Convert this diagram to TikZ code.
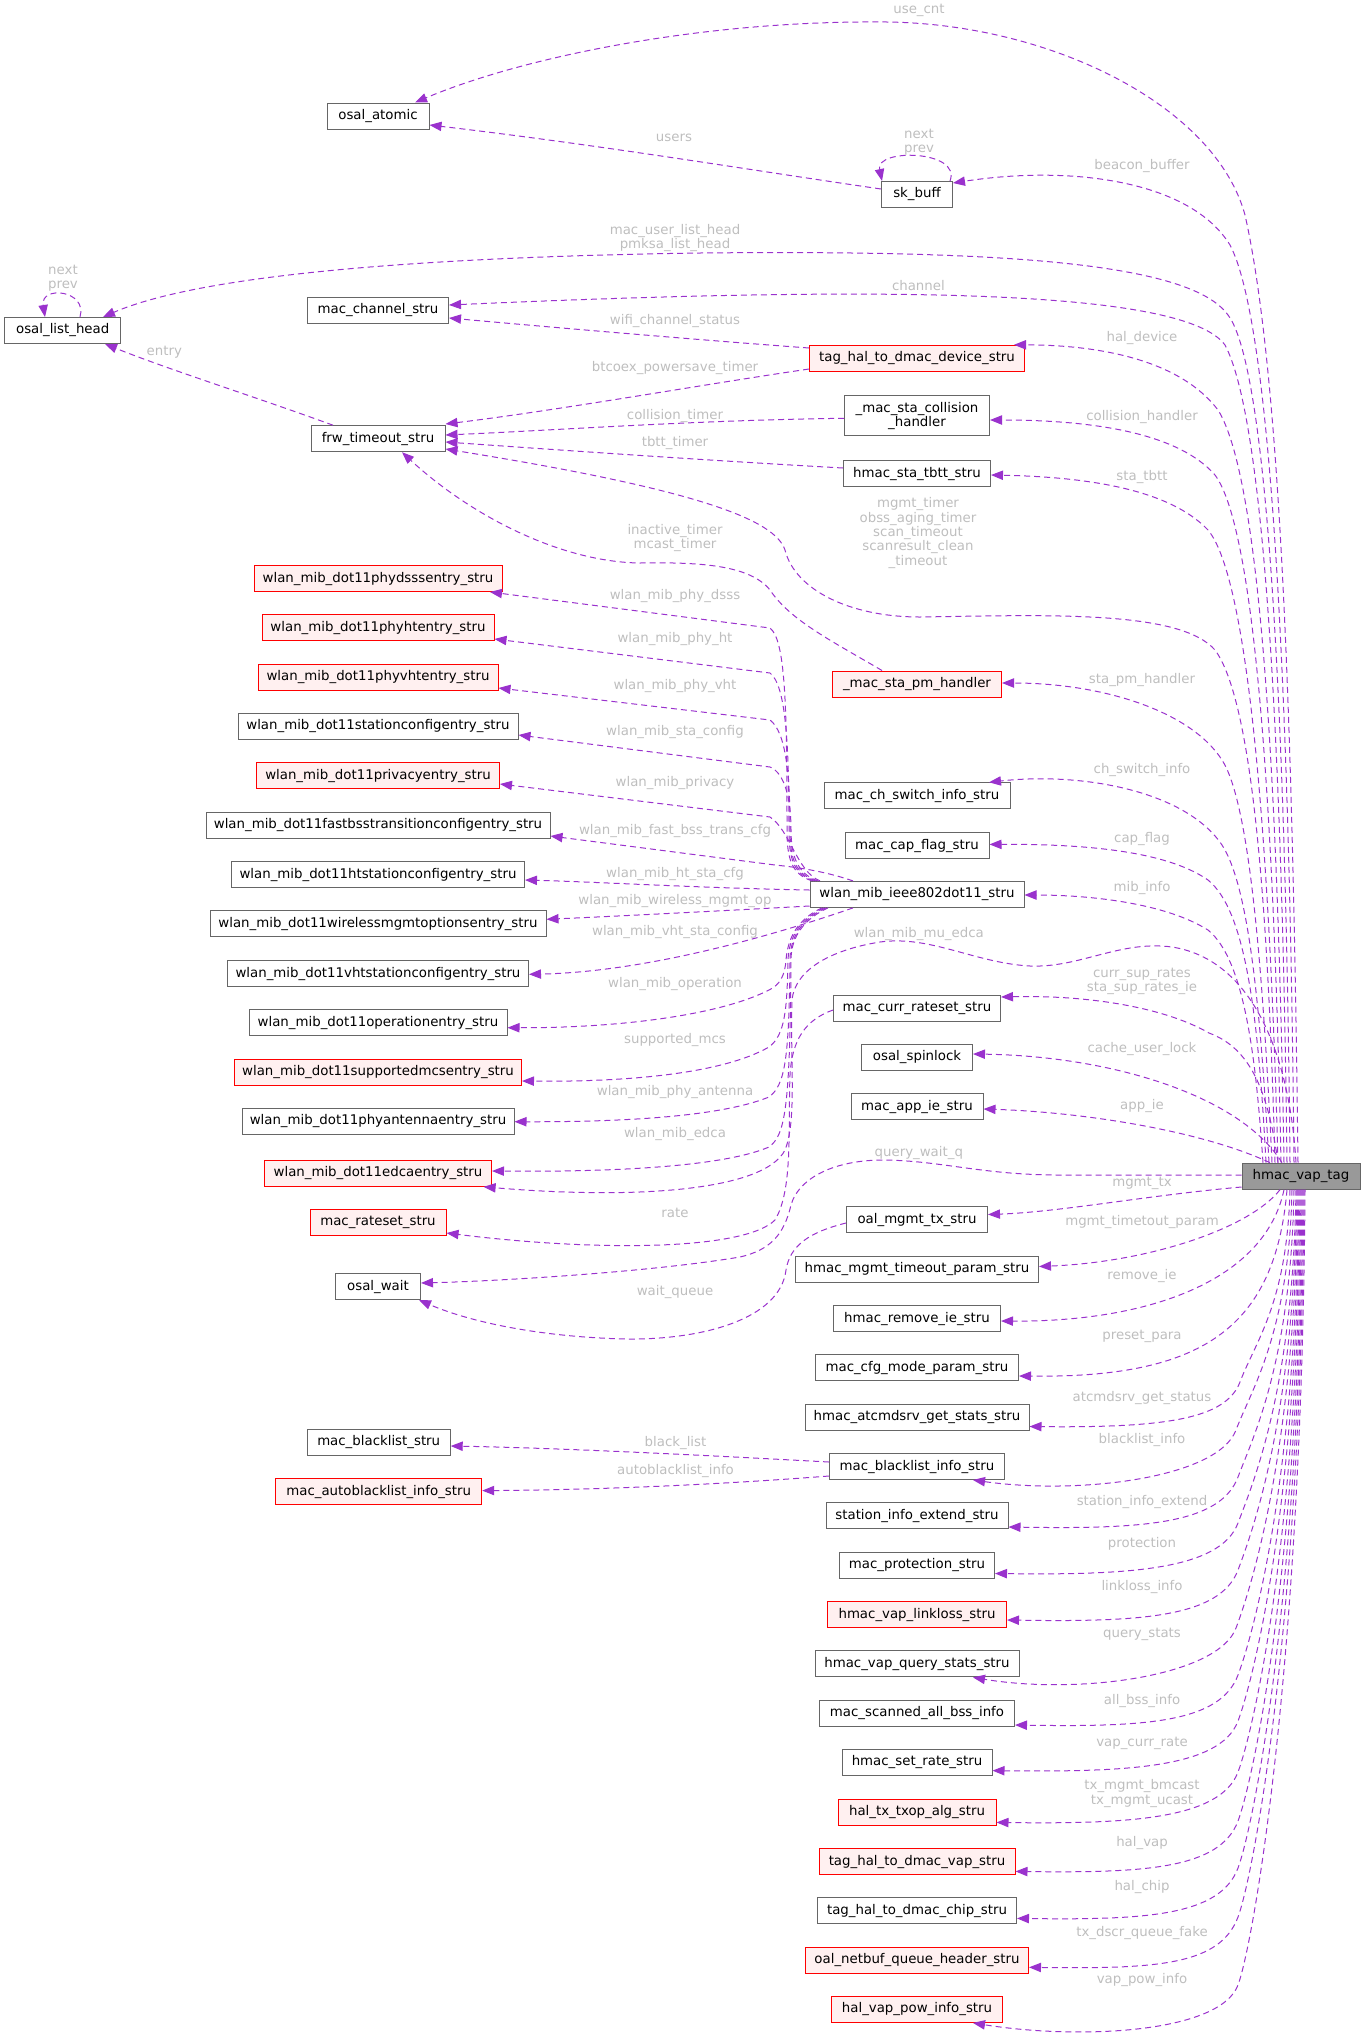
\documentclass[tikz,border=0pt]{standalone}
\usepackage{fontspec}
\setmainfont{DejaVu Sans}
\usetikzlibrary{arrows.meta}
\definecolor{edgecol}{HTML}{9A32CD}
\definecolor{lblgray}{HTML}{BEBEBE}
\definecolor{nodegray}{HTML}{666666}
\definecolor{redfill}{HTML}{FFF0F0}
\definecolor{hmacfill}{HTML}{999999}
\begin{document}
\begin{tikzpicture}[x=0.75pt,y=-0.75pt,
  box/.style={draw=nodegray, fill=white, line width=0.75pt, minimum height=19.5pt, inner xsep=3pt, inner ysep=0pt, align=center, font=\fontsize{10}{10.8}\selectfont},
  redbox/.style={box, draw=red, fill=redfill},
  mw/.style={minimum width={#1*0.75pt}},
  edge/.style={draw=edgecol, line width=0.75pt, dash pattern=on 4.5pt off 3pt, -{Triangle[length=9pt,width=7pt]}},
  lbl/.style={text=lblgray, inner sep=0pt, align=center, font=\fontsize{10}{10.7}\selectfont}]
\useasboundingbox (0,0) rectangle (1365,2042);
% ---------- nodes ----------
\node[box,mw=102] (atomic) at (378,116) {osal\_atomic};
\node[box,mw=71] (skbuff) at (917,194.5) {sk\_buff};
\node[box,mw=116] (listhead) at (62.7,330.5) {osal\_list\_head};
\node[box,mw=141] (channel) at (378,310.3) {mac\_channel\_stru};
\node[box,mw=134] (frw) at (378,438.7) {frw\_timeout\_stru};
\node[redbox,mw=215] (haldev) at (917,358.3) {tag\_hal\_to\_dmac\_device\_stru};
\node[box,mw=145,minimum height=30pt] (collision) at (917,415.8) {\_mac\_sta\_collision\\\_handler};
\node[box,mw=147] (tbtt) at (917,473.5) {hmac\_sta\_tbtt\_stru};
\node[redbox,mw=248] (dsss) at (378,578.5) {wlan\_mib\_dot11phydsssentry\_stru};
\node[redbox,mw=232] (pht) at (378,627.8) {wlan\_mib\_dot11phyhtentry\_stru};
\node[redbox,mw=240] (pvht) at (378,677.2) {wlan\_mib\_dot11phyvhtentry\_stru};
\node[box,mw=280] (stacfg) at (378,726.3) {wlan\_mib\_dot11stationconfigentry\_stru};
\node[redbox,mw=243] (privacy) at (378,775.8) {wlan\_mib\_dot11privacyentry\_stru};
\node[box,mw=344] (fastbss) at (378,825.2) {wlan\_mib\_dot11fastbsstransitionconfigentry\_stru};
\node[box,mw=293] (htsta) at (378,874.5) {wlan\_mib\_dot11htstationconfigentry\_stru};
\node[box,mw=336] (wmgmt) at (378,923.7) {wlan\_mib\_dot11wirelessmgmtoptionsentry\_stru};
\node[box,mw=301] (vhtsta) at (378,973.5) {wlan\_mib\_dot11vhtstationconfigentry\_stru};
\node[box,mw=258] (operation) at (378,1022.5) {wlan\_mib\_dot11operationentry\_stru};
\node[redbox,mw=287] (mcs) at (378,1072) {wlan\_mib\_dot11supportedmcsentry\_stru};
\node[box,mw=272] (antenna) at (378,1121.2) {wlan\_mib\_dot11phyantennaentry\_stru};
\node[redbox,mw=227] (edca) at (378,1173.3) {wlan\_mib\_dot11edcaentry\_stru};
\node[redbox,mw=136] (rateset) at (378,1222.5) {mac\_rateset\_stru};
\node[box,mw=85] (wait) at (378,1286.5) {osal\_wait};
\node[redbox,mw=169] (pm) at (917,684) {\_mac\_sta\_pm\_handler};
\node[box,mw=186] (chsw) at (917,795.8) {mac\_ch\_switch\_info\_stru};
\node[box,mw=144] (capflag) at (917,845.6) {mac\_cap\_flag\_stru};
\node[box,mw=214] (mib) at (917,894.4) {wlan\_mib\_ieee802dot11\_stru};
\node[box,mw=167] (currrate) at (917,1008) {mac\_curr\_rateset\_stru};
\node[box,mw=111] (spin) at (917,1057.4) {osal\_spinlock};
\node[box,mw=132] (appie) at (917,1106.6) {mac\_app\_ie\_stru};
\node[box,mw=118,fill=hmacfill] (hmac) at (1301,1176.2) {hmac\_vap\_tag};
\node[box,mw=141] (mgmttx) at (917,1219.7) {oal\_mgmt\_tx\_stru};
\node[box,mw=243] (mgmtto) at (917,1269.3) {hmac\_mgmt\_timeout\_param\_stru};
\node[box,mw=167] (removeie) at (917,1318.5) {hmac\_remove\_ie\_stru};
\node[box,mw=203] (cfgmode) at (917,1367.8) {mac\_cfg\_mode\_param\_stru};
\node[box,mw=224] (atcmd) at (917,1417.3) {hmac\_atcmdsrv\_get\_stats\_stru};
\node[box,mw=143] (blist) at (378.7,1442.4) {mac\_blacklist\_stru};
\node[box,mw=175] (blinfo) at (917,1466.5) {mac\_blacklist\_info\_stru};
\node[redbox,mw=206] (ablist) at (378.7,1491.8) {mac\_autoblacklist\_info\_stru};
\node[box,mw=182] (stainfo) at (917,1515.8) {station\_info\_extend\_stru};
\node[box,mw=155] (prot) at (917,1565.3) {mac\_protection\_stru};
\node[redbox,mw=179] (linkloss) at (917,1614.5) {hmac\_vap\_linkloss\_stru};
\node[box,mw=204] (qstats) at (917,1663.9) {hmac\_vap\_query\_stats\_stru};
\node[box,mw=195] (scanned) at (917,1713.3) {mac\_scanned\_all\_bss\_info};
\node[box,mw=150] (setrate) at (917,1762.4) {hmac\_set\_rate\_stru};
\node[redbox,mw=158] (txop) at (917,1812) {hal\_tx\_txop\_alg\_stru};
\node[redbox,mw=196] (dmacvap) at (917,1861.5) {tag\_hal\_to\_dmac\_vap\_stru};
\node[box,mw=199] (dmacchip) at (917,1910.7) {tag\_hal\_to\_dmac\_chip\_stru};
\node[redbox,mw=223] (netbuf) at (917,1960) {oal\_netbuf\_queue\_header\_stru};
\node[redbox,mw=171] (powinfo) at (917,2009.4) {hal\_vap\_pow\_info\_stru};
% ---------- edges from hmac_vap_tag (upwards) ----------
\draw[edge] (1298,0 |- hmac.north) .. controls (1293,750) and (1282,380) .. (1245,215) .. controls (1215,105) and (1050,24) .. (887,22) .. controls (700,20) and (520,58) .. (415,0 |- atomic.north);
\draw[edge] (1294,0 |- hmac.north) .. controls (1290,750) and (1275,330) .. (1230,245) .. controls (1190,180) and (1070,165) .. (skbuff.east |- 0,183);
\draw[edge] (1290,0 |- hmac.north) .. controls (1286,750) and (1270,370) .. (1228,315) .. controls (1190,262) and (1000,250) .. (700,253) .. controls (420,257) and (200,275) .. (103,0 |- listhead.north);
\draw[edge] (1287,0 |- hmac.north) .. controls (1282,750) and (1265,420) .. (1225,345) .. controls (1185,290) and (900,285) .. (channel.east |- 0,305);
\draw[edge] (1284,0 |- hmac.north) .. controls (1278,800) and (1262,480) .. (1218,410) .. controls (1180,360) and (1100,345) .. (1014,0 |- haldev.north);
\draw[edge] (1281,0 |- hmac.north) .. controls (1274,820) and (1256,530) .. (1215,475) .. controls (1180,435) and (1100,420) .. (collision.east |- 0,420);
\draw[edge] (1278,0 |- hmac.north) .. controls (1270,860) and (1250,580) .. (1208,530) .. controls (1170,490) and (1090,477) .. (tbtt.east |- 0,475);
\draw[edge] (1275,0 |- hmac.north) .. controls (1268,900) and (1252,700) .. (1215,650) .. controls (1180,610) and (1050,615) .. (920,617) .. controls (850,617) and (795,590) .. (785,550) .. controls (775,520) and (700,490) .. (frw.east |- 0,449);
\draw[edge] (1272,0 |- hmac.north) .. controls (1262,950) and (1248,800) .. (1222,760) .. controls (1190,710) and (1100,683) .. (pm.east |- 0,683);
\draw[edge] (1269,0 |- hmac.north) .. controls (1260,1000) and (1248,885) .. (1222,845) .. controls (1185,790) and (1080,772) .. (989,0 |- chsw.north);
\draw[edge] (1266,0 |- hmac.north) .. controls (1258,1010) and (1245,910) .. (1208,880) .. controls (1165,850) and (1080,844) .. (capflag.east |- 0,844.4);
\draw[edge] (1263,0 |- hmac.north) .. controls (1256,1060) and (1245,960) .. (1208,930) .. controls (1165,903) and (1090,895) .. (mib.east |- 0,895);
\draw[edge] (1296,0 |- hmac.north) .. controls (1290,1060) and (1255,960) .. (1172,947) .. controls (1120,940) and (1080,968) .. (1030,966) .. controls (975,963) and (930,935) .. (880,942) .. controls (830,950) and (795,970) .. (792,1000) .. controls (790,1060) and (797,1120) .. (785,1150) .. controls (765,1190) and (640,1200) .. (483.6,0 |- edca.south);
\draw[edge] (1278,0 |- hmac.north) .. controls (1268,1090) and (1250,1048) .. (1209,1033) .. controls (1160,1005) and (1080,995) .. (currrate.east |- 0,997);
\draw[edge] (1282,0 |- hmac.north) .. controls (1240,1095) and (1110,1056) .. (spin.east |- 0,1054);
\draw[edge] (1270,0 |- hmac.north) .. controls (1200,1130) and (1080,1112) .. (appie.east |- 0,1109);
\draw[edge] (hmac.west |- 0,1175) -- (1060,1175) .. controls (980,1175) and (940,1160) .. (880,1160) .. controls (830,1161) and (798,1180) .. (791,1205) .. controls (784,1235) and (770,1250) .. (740,1257) .. controls (650,1272) and (500,1281) .. (wait.east |- 0,1283);
\draw[edge] (hmac.west |- 0,1187) .. controls (1150,1195) and (1060,1212) .. (mgmttx.east |- 0,1214.5);
% ---------- edges from hmac_vap_tag (downwards) ----------
\draw[edge] (1280,0 |- hmac.south) .. controls (1250,1228) and (1150,1262) .. (mgmtto.east |- 0,1266.5);
\draw[edge] (1284,0 |- hmac.south) .. controls (1265,1280) and (1150,1322) .. (removeie.east |- 0,1321);
\draw[edge] (1287,0 |- hmac.south) .. controls (1275,1330) and (1200,1378) .. (cfgmode.east |- 0,1376);
\draw[edge] (1290,0 |- hmac.south) .. controls (1287,1304) and (1255,1342) .. (1240,1382) .. controls (1226,1418) and (1170,1428) .. (atcmd.east |- 0,1426.5);
\draw[edge] (1292,0 |- hmac.south) .. controls (1289,1334) and (1251,1390) .. (1236,1430) .. controls (1218,1478) and (1080,1495) .. (973,0 |- blinfo.south);
\draw[edge] (1294,0 |- hmac.south) .. controls (1291,1362) and (1253,1437) .. (1238,1477) .. controls (1220,1525) and (1140,1529) .. (stainfo.east |- 0,1527);
\draw[edge] (1296,0 |- hmac.south) .. controls (1293,1390) and (1253,1483) .. (1238,1523) .. controls (1220,1571) and (1124,1575) .. (prot.east |- 0,1573.5);
\draw[edge] (1297,0 |- hmac.south) .. controls (1294,1418) and (1253,1530) .. (1238,1570) .. controls (1220,1618) and (1138,1622) .. (linkloss.east |- 0,1620);
\draw[edge] (1298,0 |- hmac.south) .. controls (1295,1452) and (1251,1588) .. (1236,1628) .. controls (1218,1676) and (1080,1695) .. (973,0 |- qstats.south);
\draw[edge] (1299,0 |- hmac.south) .. controls (1296,1481) and (1253,1635) .. (1238,1675) .. controls (1220,1723) and (1145,1727) .. (scanned.east |- 0,1725);
\draw[edge] (1300,0 |- hmac.south) .. controls (1297,1508) and (1253,1681) .. (1238,1721) .. controls (1220,1769) and (1122,1772) .. (setrate.east |- 0,1770.6);
\draw[edge] (1301,0 |- hmac.south) .. controls (1298,1539) and (1253,1732) .. (1238,1772) .. controls (1220,1820) and (1126,1824) .. (txop.east |- 0,1822.4);
\draw[edge] (1302,0 |- hmac.south) .. controls (1299,1568) and (1253,1781) .. (1238,1821) .. controls (1220,1869) and (1145,1873) .. (dmacvap.east |- 0,1871.4);
\draw[edge] (1303,0 |- hmac.south) .. controls (1300,1597) and (1253,1828) .. (1238,1868) .. controls (1220,1916) and (1146,1920) .. (dmacchip.east |- 0,1918.4);
\draw[edge] (1304,0 |- hmac.south) .. controls (1301,1626) and (1253,1877) .. (1238,1917) .. controls (1220,1965) and (1158,1969) .. (netbuf.east |- 0,1967.3);
\draw[edge] (1305,0 |- hmac.south) .. controls (1302,1667) and (1253,1945) .. (1238,1985) .. controls (1220,2033) and (1080,2040) .. (973,0 |- powinfo.south);
% ---------- other edges ----------
\draw[edge] (skbuff.west |- 0,189) .. controls (750,170) and (600,145) .. (atomic.east |- 0,125);
\draw[edge] (950,0 |- skbuff.north) .. controls (962,150) and (875,148) .. (882,0 |- skbuff.north);
\draw[edge] (80,0 |- listhead.north) .. controls (88,290) and (40,285) .. (45,0 |- listhead.north);
\draw[edge] (haldev.west |- 0,348) .. controls (700,340) and (560,328) .. (channel.east |- 0,318);
\draw[edge] (haldev.west |- 0,369) .. controls (700,385) and (560,410) .. (frw.east |- 0,424);
\draw[edge] (collision.west |- 0,418.3) .. controls (700,420) and (560,430) .. (frw.east |- 0,435);
\draw[edge] (tbtt.west |- 0,468) .. controls (700,460) and (560,450) .. (frw.east |- 0,442);
\draw[edge] (333,0 |- frw.north) .. controls (250,395) and (170,370) .. (105,0 |- listhead.south);
\draw[edge] (882,0 |- pm.north) .. controls (830,640) and (790,620) .. (770,590) .. controls (750,565) and (700,562) .. (640,563) .. controls (560,562) and (470,515) .. (402,0 |- frw.south);
% wlan_mib_ieee802dot11_stru members
\draw[edge] (812,0 |- mib.north) .. controls (792,874) and (787,860) .. (787,830) .. controls (787,700) and (785,640) .. (770,628) -- (490,0 |- dsss.south);
\draw[edge] (814,0 |- mib.north) .. controls (794,874) and (789,860) .. (789,830) .. controls (789,745) and (786,685) .. (770,673) -- (pht.east |- 0,639);
\draw[edge] (816,0 |- mib.north) .. controls (796,874) and (790,860) .. (790,830) .. controls (790,775) and (786,732) .. (770,720) -- (pvht.east |- 0,688);
\draw[edge] (818,0 |- mib.north) .. controls (797,874) and (791,855) .. (791,830) .. controls (791,800) and (785,773) .. (770,767) -- (stacfg.east |- 0,735);
\draw[edge] (820,0 |- mib.north) .. controls (797,872) and (790,830) .. (770,817) -- (privacy.east |- 0,784);
\draw[edge] (853,0 |- mib.north) .. controls (830,873) and (805,868) .. (775,865) -- (fastbss.east |- 0,836);
\draw[edge] (mib.west |- 0,890) .. controls (700,888) and (600,882) .. (htsta.east |- 0,880);
\draw[edge] (mib.west |- 0,906) .. controls (700,912) and (620,916) .. (wmgmt.east |- 0,919.3);
\draw[edge] (853,0 |- mib.south) .. controls (760,940) and (640,972) .. (vhtsta.east |- 0,974.3);
\draw[edge] (822,0 |- mib.south) .. controls (800,918) and (788,935) .. (786,960) .. controls (785,975) and (780,985) .. (769,990) .. controls (720,1015) and (620,1028) .. (operation.east |- 0,1027.7);
\draw[edge] (824,0 |- mib.south) .. controls (802,918) and (789,935) .. (788,960) .. controls (787,1010) and (785,1035) .. (769,1047) .. controls (720,1075) and (620,1082) .. (mcs.east |- 0,1081);
\draw[edge] (826,0 |- mib.south) .. controls (804,918) and (790,935) .. (790,960) .. controls (789,1060) and (785,1085) .. (769,1097) .. controls (720,1117) and (620,1122) .. (antenna.east |- 0,1121.7);
\draw[edge] (828,0 |- mib.south) .. controls (806,918) and (791,935) .. (791,960) .. controls (790,1110) and (785,1135) .. (769,1147) .. controls (720,1168) and (600,1172) .. (edca.east |- 0,1171);
\draw[edge] (currrate.west |- 0,1010) .. controls (805,1020) and (792,1040) .. (790,1075) .. controls (788,1130) and (793,1190) .. (775,1220) .. controls (745,1250) and (600,1252) .. (rateset.east |- 0,1233);
\draw[edge] (mgmttx.west |- 0,1223) .. controls (810,1232) and (790,1245) .. (786,1270) .. controls (780,1320) and (700,1340) .. (626,1339) .. controls (540,1337) and (470,1322) .. (419,0 |- wait.south);
\draw[edge] (blinfo.west |- 0,1462) .. controls (700,1455) and (560,1448) .. (blist.east |- 0,1446);
\draw[edge] (blinfo.west |- 0,1476) .. controls (700,1486) and (580,1490) .. (ablist.east |- 0,1490.6);
% ---------- labels ----------
\node[lbl] (l01) at (919,10) {use\_cnt};
\node[lbl] (l02) at (919,142) {next\\prev};
\node[lbl] (l03) at (1142,166) {beacon\_buffer};
\node[lbl] (l04) at (674,138.3) {users};
\node[lbl] (l05) at (675,238) {mac\_user\_list\_head\\pmksa\_list\_head};
\node[lbl] (l06) at (63,278) {next\\prev};
\node[lbl] (l07) at (918.4,286) {channel};
\node[lbl] (l08) at (675,320.7) {wifi\_channel\_status};
\node[lbl] (l09) at (1142,338.3) {hal\_device};
\node[lbl] (l10) at (675,368.3) {btcoex\_powersave\_timer};
\node[lbl] (l11) at (164.3,351.7) {entry};
\node[lbl] (l12) at (675,415.7) {collision\_timer};
\node[lbl] (l13) at (1142,416.7) {collision\_handler};
\node[lbl] (l14) at (675,443.3) {tbtt\_timer};
\node[lbl] (l15) at (1142,476.7) {sta\_tbtt};
\node[lbl] (l16) at (918,533) {mgmt\_timer\\obss\_aging\_timer\\scan\_timeout\\scanresult\_clean\\\_timeout};
\node[lbl] (l17) at (675,537.7) {inactive\_timer\\mcast\_timer};
\node[lbl] (l18) at (675,595.7) {wlan\_mib\_phy\_dsss};
\node[lbl] (l19) at (675,639.3) {wlan\_mib\_phy\_ht};
\node[lbl] (l20) at (675,686) {wlan\_mib\_phy\_vht};
\node[lbl] (l21) at (1142,679.5) {sta\_pm\_handler};
\node[lbl] (l22) at (675,731.7) {wlan\_mib\_sta\_config};
\node[lbl] (l23) at (1142,770) {ch\_switch\_info};
\node[lbl] (l24) at (675,782.7) {wlan\_mib\_privacy};
\node[lbl] (l25) at (675,830.7) {wlan\_mib\_fast\_bss\_trans\_cfg};
\node[lbl] (l26) at (1142,838.7) {cap\_flag};
\node[lbl] (l27) at (675,874.3) {wlan\_mib\_ht\_sta\_cfg};
\node[lbl] (l28) at (1142,888.4) {mib\_info};
\node[lbl] (l29) at (675,901) {wlan\_mib\_wireless\_mgmt\_op};
\node[lbl] (l30) at (675,932) {wlan\_mib\_vht\_sta\_config};
\node[lbl] (l31) at (918.8,934.3) {wlan\_mib\_mu\_edca};
\node[lbl] (l32) at (1142,981.6) {curr\_sup\_rates\\sta\_sup\_rates\_ie};
\node[lbl] (l33) at (675,984.3) {wlan\_mib\_operation};
\node[lbl] (l34) at (675,1040) {supported\_mcs};
\node[lbl] (l35) at (1142,1048.8) {cache\_user\_lock};
\node[lbl] (l36) at (675,1091.7) {wlan\_mib\_phy\_antenna};
\node[lbl] (l37) at (1142,1106) {app\_ie};
\node[lbl] (l38) at (675,1134.3) {wlan\_mib\_edca};
\node[lbl] (l39) at (918.8,1152.9) {query\_wait\_q};
\node[lbl] (l40) at (1142,1183) {mgmt\_tx};
\node[lbl] (l41) at (675,1213.3) {rate};
\node[lbl] (l42) at (1142,1222) {mgmt\_timetout\_param};
\node[lbl] (l43) at (1142,1275.7) {remove\_ie};
\node[lbl] (l44) at (675,1291.7) {wait\_queue};
\node[lbl] (l45) at (1142,1336.7) {preset\_para};
\node[lbl] (l46) at (1142,1398) {atcmdsrv\_get\_status};
\node[lbl] (l47) at (675.5,1443) {black\_list};
\node[lbl] (l48) at (1142,1439.6) {blacklist\_info};
\node[lbl] (l49) at (675.5,1471.4) {autoblacklist\_info};
\node[lbl] (l50) at (1142,1502) {station\_info\_extend};
\node[lbl] (l51) at (1142,1543.7) {protection};
\node[lbl] (l52) at (1142,1587.3) {linkloss\_info};
\node[lbl] (l53) at (1142,1634.7) {query\_stats};
\node[lbl] (l54) at (1142,1700.8) {all\_bss\_info};
\node[lbl] (l55) at (1142,1742.9) {vap\_curr\_rate};
\node[lbl] (l56) at (1142,1793.6) {tx\_mgmt\_bmcast\\tx\_mgmt\_ucast};
\node[lbl] (l57) at (1142,1842.9) {hal\_vap};
\node[lbl] (l58) at (1142,1886.5) {hal\_chip};
\node[lbl] (l59) at (1142,1932.7) {tx\_dscr\_queue\_fake};
\node[lbl] (l60) at (1142,1979.6) {vap\_pow\_info};
\end{tikzpicture}
\end{document}
